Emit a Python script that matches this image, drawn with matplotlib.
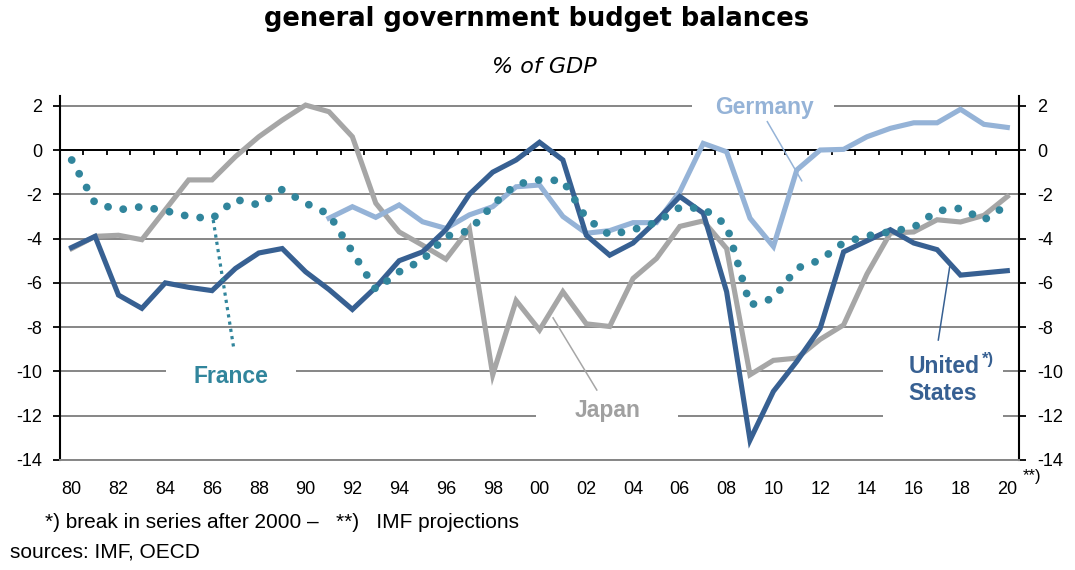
import matplotlib
matplotlib.use("Agg")
import matplotlib.pyplot as plt
from matplotlib.patches import Rectangle
import numpy as np

plt.rcParams['font.family'] = ['Liberation Sans', 'DejaVu Sans']
plt.rcParams['axes.unicode_minus'] = False

years = np.arange(1980, 2021)
germany_years = np.arange(1991, 2021)

# % of GDP
us = [-4.4, -3.9, -6.55, -7.15, -6.0, -6.2, -6.35, -5.35, -4.65, -4.45,
      -5.5, -6.3, -7.2, -6.2, -5.0, -4.6, -3.6, -2.0, -1.0, -0.45,
      0.35, -0.45, -3.85, -4.75, -4.2, -3.2, -2.1, -2.85, -6.4, -13.1,
      -10.9, -9.55, -8.05, -4.6, -4.1, -3.6, -4.2, -4.5, -5.65, -5.55, -5.45]
japan = [-4.45, -3.9, -3.85, -4.05, -2.7, -1.35, -1.35, -0.3, 0.6, 1.35,
         2.03, 1.73, 0.6, -2.4, -3.7, -4.3, -4.93, -3.55, -10.15, -6.8,
         -8.13, -6.4, -7.85, -7.97, -5.8, -4.9, -3.45, -3.2, -4.45, -10.15,
         -9.5, -9.4, -8.55, -7.9, -5.6, -3.75, -3.7, -3.15, -3.25, -2.95, -2.1]
germany = [-3.08, -2.56, -3.04, -2.48, -3.24, -3.54, -2.93, -2.56, -1.66, -1.58,
           -3.0, -3.76, -3.64, -3.28, -3.28, -1.88, 0.3, -0.08, -3.08, -4.36,
           -0.9, 0.0, 0.03, 0.6, 0.98, 1.23, 1.23, 1.84, 1.16, 1.02]
france = [-0.45, -2.4, -2.7, -2.56, -2.74, -3.0, -3.1, -2.23, -2.48, -1.78,
          -2.4, -2.9, -4.6, -6.3, -5.5, -4.97, -3.9, -3.64, -2.48, -1.55,
          -1.35, -1.38, -3.08, -3.84, -3.6, -3.27, -2.59, -2.64, -3.39, -7.0,
          -6.7, -5.34, -4.97, -4.18, -3.88, -3.69, -3.49, -2.75, -2.63, -3.16, -2.48]

c_us = '#376092'
c_japan = '#A6A6A6'
c_germany = '#95B3D7'
c_france = '#31859C'
c_grid = '#868686'

W, H = 1075, 570
fig = plt.figure(figsize=(W / 100, H / 100), dpi=100)
ax = fig.add_axes([60 / W, 1 - 460 / H, (1019 - 60) / W, (460 - 96) / H])

ax.set_xlim(1979.5, 2020.5)
ax.set_ylim(-14, 2.44)

# grid, zero line, axes frame
ax.set_yticks(np.arange(-14, 3, 2))
ax.yaxis.grid(True, color=c_grid, lw=1.4)
ax.set_axisbelow(True)
ax.axhline(0, color='black', lw=1.4, zorder=1.5)
ax.vlines(years[:-1] + 0.5, -0.23, 0, color='black', lw=1.3, zorder=1.5)
ax.spines['top'].set_visible(False)
ax.spines['bottom'].set_color(c_grid)
ax.spines['bottom'].set_linewidth(1.4)
for s in ['left', 'right']:
    ax.spines[s].set_linewidth(1.5)

ax.tick_params(axis='y', direction='out', length=5, width=1.3, pad=8,
               left=True, right=True, labelleft=True, labelright=True, labelsize=13)
ax.set_xticks(years[::2])
ax.set_xticklabels([f'{y % 100:02d}' for y in years[::2]])
ax.tick_params(axis='x', length=0, pad=15, labelsize=13)

# series
ax.plot(years, japan, color=c_japan, lw=3.7, zorder=3, solid_joinstyle='miter')
ax.plot(germany_years, germany, color=c_germany, lw=3.7, zorder=4, solid_joinstyle='miter')
ax.plot(years, us, color=c_us, lw=3.7, zorder=5, solid_joinstyle='miter')
ax.plot(years, france, color=c_france, lw=5.6, linestyle=(0, (0.01, 2.0)),
        dash_capstyle='round', zorder=6)

# white gaps in the gridlines behind the labels
gaps = [(1984.04, 1989.6, -10), (2006.5, 2012.59, 2), (1999.85, 2005.92, -12),
        (2014.68, 2019.81, -10), (2014.68, 2019.81, -12)]
for x0, x1, gy in gaps:
    ax.add_patch(Rectangle((x0, gy - 0.2), x1 - x0, 0.4, facecolor='white',
                           edgecolor='none', zorder=1.2))

# leader lines
ax.plot([1986.05, 1986.94], [-3.16, -9.03], color=c_france, lw=2.3,
        linestyle=(0, (1, 1.3)), zorder=6)
ax.plot([2009.74, 2011.21], [1.28, -1.39], color=c_germany, lw=1.1, zorder=6)
ax.plot([2000.58, 2002.45], [-7.58, -10.84], color=c_japan, lw=1.1, zorder=6)
ax.plot([2017.55, 2017.05], [-5.19, -8.58], color=c_us, lw=1.1, zorder=6)

# labels
lab = dict(fontsize=16.5, fontweight='bold', zorder=7)
ax.text(1986.79, -10.5, 'France', color=c_france, ha='center', va='baseline', **lab)
ax.text(2009.6, 1.61, 'Germany', color=c_germany, ha='center', va='baseline', **lab)
ax.text(2002.89, -12.04, 'Japan', color='#A0A0A0', ha='center', va='baseline', **lab)
ax.text(2015.77, -10.08, 'United', color=c_us, ha='left', va='baseline', **lab)
ax.text(2015.75, -11.29, 'States', color=c_us, ha='left', va='baseline', **lab)
ax.text(2018.9, -9.65, '*)', color=c_us, ha='left', va='baseline',
        fontsize=12, fontweight='bold', zorder=7)

# titles and notes
fig.text(537 / W, 1 - 19 / H, 'general government budget balances', ha='center', va='center',
         fontsize=18.5, fontweight='bold', family='DejaVu Sans')
fig.text(544 / W, 1 - 67 / H, '% of GDP', ha='center', va='center',
         fontsize=16, style='italic', family='DejaVu Sans')
fig.text(1023 / W, 1 - 477 / H, '**)', ha='left', va='center', fontsize=12)
fig.text(45 / W, 1 - 522 / H, '*) break in series after 2000 –   **)   IMF projections',
         ha='left', va='center', fontsize=15)
fig.text(10 / W, 1 - 552 / H, 'sources: IMF, OECD', ha='left', va='center', fontsize=15)

fig.savefig('out.png', dpi=100)
